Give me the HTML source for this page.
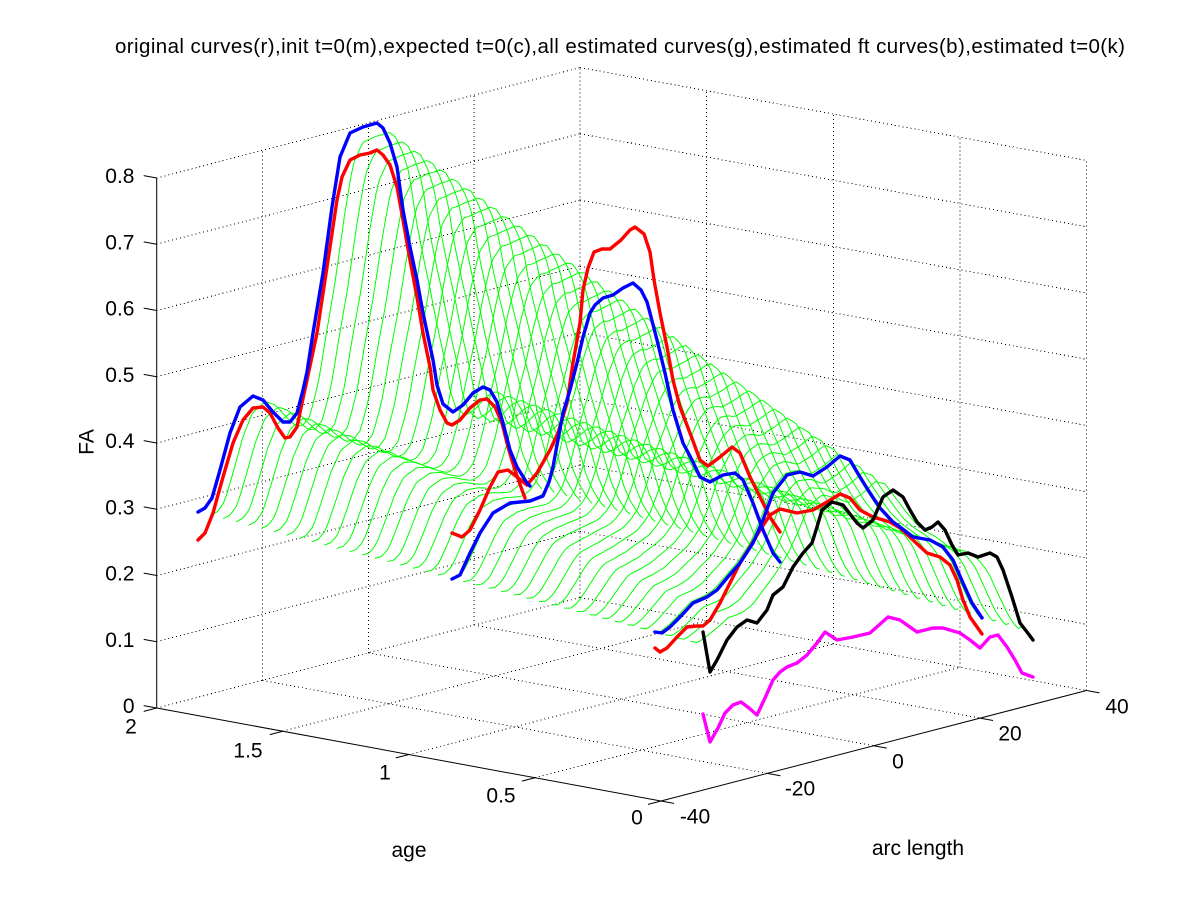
<!DOCTYPE html>
<html>
<head>
<meta charset="utf-8">
<style>
html,body{margin:0;padding:0;background:#fff;}
svg{display:block;}
text{font-family:"Liberation Sans",Arial,Helvetica,sans-serif;fill:#000;}
.grid{stroke:#000;stroke-width:1;stroke-dasharray:1 3;fill:none;shape-rendering:crispEdges;}
.ax{stroke:#000;stroke-width:1;fill:none;}
.cv{fill:none;stroke-width:3.4;stroke-linejoin:round;stroke-linecap:round;}
#green polyline{fill:none;stroke:#00ff00;stroke-width:1;}
</style>
</head>
<body>
<svg width="1200" height="900" viewBox="0 0 1200 900">
<rect x="0" y="0" width="1200" height="900" fill="#fff"/>

<g class="grid">
<line x1="156.7" y1="708" x2="580" y2="597.5"/>
<line x1="156.7" y1="641.75" x2="580" y2="531.25"/>
<line x1="156.7" y1="575.5" x2="580" y2="465"/>
<line x1="156.7" y1="509.25" x2="580" y2="398.75"/>
<line x1="156.7" y1="443" x2="580" y2="332.5"/>
<line x1="156.7" y1="376.75" x2="580" y2="266.25"/>
<line x1="156.7" y1="310.5" x2="580" y2="200"/>
<line x1="156.7" y1="244.25" x2="580" y2="133.75"/>
<line x1="156.7" y1="178" x2="580" y2="67.5"/>
<line x1="262.5" y1="680.4" x2="262.5" y2="150.4"/>
<line x1="368.35" y1="652.75" x2="368.35" y2="122.75"/>
<line x1="474.2" y1="625.1" x2="474.2" y2="95.1"/>
<line x1="580" y1="597.5" x2="580" y2="67.5"/>
<line x1="580" y1="597.5" x2="1086.5" y2="690.5"/>
<line x1="580" y1="531.25" x2="1086.5" y2="624.25"/>
<line x1="580" y1="465" x2="1086.5" y2="558"/>
<line x1="580" y1="398.75" x2="1086.5" y2="491.75"/>
<line x1="580" y1="332.5" x2="1086.5" y2="425.5"/>
<line x1="580" y1="266.25" x2="1086.5" y2="359.25"/>
<line x1="580" y1="200" x2="1086.5" y2="293"/>
<line x1="580" y1="133.75" x2="1086.5" y2="226.75"/>
<line x1="580" y1="67.5" x2="1086.5" y2="160.5"/>
<line x1="706.6" y1="620.75" x2="706.6" y2="90.75"/>
<line x1="833.25" y1="644" x2="833.25" y2="114"/>
<line x1="959.9" y1="667.25" x2="959.9" y2="137.25"/>
<line x1="1086.5" y1="690.5" x2="1086.5" y2="160.5"/>
<line x1="282.8" y1="731.25" x2="706.6" y2="620.75"/>
<line x1="408.85" y1="754.5" x2="833.25" y2="644"/>
<line x1="534.9" y1="777.75" x2="959.9" y2="667.25"/>
<line x1="262.5" y1="680.4" x2="767.4" y2="773.4"/>
<line x1="368.35" y1="652.75" x2="873.75" y2="745.75"/>
<line x1="474.2" y1="625.1" x2="980.1" y2="718.1"/>
</g>

<g class="ax">
<line x1="156.7" y1="178" x2="156.7" y2="708"/>
<line x1="156.7" y1="708" x2="661" y2="801"/>
<line x1="661" y1="801" x2="1086.5" y2="690.5"/>
<line x1="156.7" y1="708" x2="143.7" y2="705.6"/>
<line x1="156.7" y1="641.75" x2="143.7" y2="639.35"/>
<line x1="156.7" y1="575.5" x2="143.7" y2="573.1"/>
<line x1="156.7" y1="509.25" x2="143.7" y2="506.85"/>
<line x1="156.7" y1="443" x2="143.7" y2="440.6"/>
<line x1="156.7" y1="376.75" x2="143.7" y2="374.35"/>
<line x1="156.7" y1="310.5" x2="143.7" y2="308.1"/>
<line x1="156.7" y1="244.25" x2="143.7" y2="241.85"/>
<line x1="156.7" y1="178" x2="143.7" y2="175.6"/>
<line x1="156.7" y1="708" x2="143.7" y2="711.4"/>
<line x1="282.8" y1="731.25" x2="269.8" y2="734.65"/>
<line x1="408.85" y1="754.5" x2="395.85" y2="757.9"/>
<line x1="534.9" y1="777.75" x2="521.9" y2="781.15"/>
<line x1="661" y1="801" x2="648" y2="804.4"/>
<line x1="661" y1="801" x2="674" y2="803.4"/>
<line x1="767.4" y1="773.4" x2="780.4" y2="775.8"/>
<line x1="873.75" y1="745.75" x2="886.75" y2="748.15"/>
<line x1="980.1" y1="718.1" x2="993.1" y2="720.5"/>
<line x1="1086.5" y1="690.5" x2="1099.5" y2="692.9"/>
</g>

<g id="green"></g>

<g class="cv" stroke="#ff0000">
<polyline points="198,540 205,533 213,513 223,477 233,443 243,420 253,408 263,407 270,413 278,428 285,438 290,437 297,427 302,403 307,380 317,333 327,267 337,200 342,177 350,160 360,155 370,153 377,150 383,155 390,165 397,187 403,220 410,260 417,297 423,333 430,367 433,390 440,410 447,423 452,425 460,420 470,408 480,400 487,399 495,407 502,423 508,447 515,470 522,490 525,498"/>
<polyline points="452,533 462,537 470,530 480,510 490,487 498,472 508,470 517,477 527,485 537,473 550,450 558,433 567,403 573,363 580,323 583,290 588,268 594,252 602,249 610,249 621,240 630,230 635,227 644,234 650,252 654,280 660,313 667,347 673,380 680,407 690,433 700,460 708,466 720,457 732,447 740,453 750,477 760,497 770,517 780,532"/>
<polyline points="655,648 660,652 667,648 677,637 687,627 697,626 703,626 710,620 720,603 730,583 740,563 750,547 760,530 770,515 780,509 797,513 813,510 827,502 840,494 850,498 860,510 873,517 890,522 900,528 913,540 927,553 940,557 950,565 957,580 963,600 970,617 982,634"/>
</g>

<g class="cv" stroke="#ff00ff">
<polyline points="703,714 710,742 718,728 725,713 733,705 741,702 749,708 757,715 765,698 773,680 780,672 787,667 797,663 807,655 817,643 825,632 837,640 853,637 870,633 888,617 900,620 917,632 933,628 943,628 960,633 970,640 980,648 990,637 998,635 1007,647 1015,660 1022,673 1033,677"/>
</g>

<g class="cv" stroke="#0000ff">
<polyline points="198,512 205,508 212,498 220,470 230,433 240,407 253,396 263,400 273,412 283,422 290,422 297,413 303,390 307,372 313,333 323,273 332,207 340,157 350,133 363,127 377,123 383,128 390,143 397,167 403,210 410,247 417,280 423,313 433,360 437,385 443,404 453,412 463,405 473,393 483,387 490,390 497,402 503,423 510,450 517,467 527,483 530,486"/>
<polyline points="452,579 460,575 470,553 480,533 493,513 510,503 530,501 543,496 549,482 553,467 557,445 563,413 570,390 577,363 583,337 590,313 595,305 603,298 613,295 623,288 633,283 641,290 647,302 650,313 657,340 665,373 673,410 683,443 692,460 700,477 710,482 723,475 735,473 743,480 753,503 763,530 773,553 780,562"/>
<polyline points="655,632 662,633 670,627 680,617 693,603 707,597 717,590 727,578 740,563 753,543 763,520 773,493 787,475 800,472 813,476 827,467 840,456 850,460 860,477 870,493 880,508 893,522 900,527 913,537 930,540 943,547 953,560 963,583 972,603 982,618"/>
</g>

<g class="cv" stroke="#000000">
<polyline points="703,632 710,672 717,660 727,640 737,627 747,620 757,623 767,610 773,595 783,587 793,567 803,553 812,543 817,527 822,510 832,502 843,505 857,523 863,528 873,520 883,497 893,490 903,497 910,510 917,522 925,530 932,527 938,522 945,530 952,545 958,555 968,553 978,557 990,553 997,557 1003,570 1012,597 1020,623 1027,632 1033,640"/>
</g>

<text x="620" y="53" font-size="20.5" text-anchor="middle" textLength="1010" lengthAdjust="spacing">original curves(r),init t=0(m),expected t=0(c),all estimated curves(g),estimated ft curves(b),estimated t=0(k)</text>

<g font-size="21" text-anchor="end">
<text x="134.5" y="713">0</text>
<text x="134.5" y="646.75">0.1</text>
<text x="134.5" y="580.5">0.2</text>
<text x="134.5" y="514.25">0.3</text>
<text x="134.5" y="448">0.4</text>
<text x="134.5" y="381.75">0.5</text>
<text x="134.5" y="315.5">0.6</text>
<text x="134.5" y="249.25">0.7</text>
<text x="134.5" y="183">0.8</text>
</g>

<g font-size="21" text-anchor="middle">
<text x="131" y="733.5">2</text>
<text x="248" y="757.5">1.5</text>
<text x="385" y="779.5">1</text>
<text x="501" y="802.5">0.5</text>
<text x="637" y="824.5">0</text>
</g>

<g font-size="21" text-anchor="middle">
<text x="695" y="823.5">-40</text>
<text x="800" y="795.5">-20</text>
<text x="898" y="768.5">0</text>
<text x="1010" y="740.5">20</text>
<text x="1117" y="713.5">40</text>
</g>

<text x="409" y="857" font-size="21" text-anchor="middle">age</text>
<text x="918" y="855" font-size="21" text-anchor="middle">arc length</text>
<text transform="translate(93.5,442) rotate(-90)" font-size="21" text-anchor="middle">FA</text>
</svg>

<script>
(function(){
var O=[156.7,708],AV=[505,93],RV=[424.4,-110.5],ZS=662.5;
var B1=[[198,512],[205,508],[212,498],[220,470],[230,433],[240,407],[253,396],[263,400],[273,412],[283,422],[290,422],[297,413],[303,390],[307,372],[313,333],[323,273],[332,207],[340,157],[350,133],[363,127],[377,123],[383,128],[390,143],[397,167],[403,210],[410,247],[417,280],[423,313],[433,360],[437,385],[443,404],[453,412],[463,405],[473,393],[483,387],[490,390],[497,402],[503,423],[510,450],[517,467],[527,483],[530,486]];
var B3=[[655,632],[662,633],[670,627],[680,617],[693,603],[707,597],[717,590],[727,578],[740,563],[753,543],[763,520],[773,493],[787,475],[800,472],[813,476],[827,467],[840,456],[850,460],[860,477],[870,493],[880,508],[893,522],[900,527],[913,537],[930,540],[943,547],[953,560],[963,583],[972,603],[982,618]];
function inv(p,a){var t=(2-a)/2;return p.map(function(q){var u=(q[0]-O[0]-t*AV[0])/RV[0]*80;var y0=O[1]+t*AV[1]+u/80*RV[1];return [u,(y0-q[1])/ZS];});}
function ip(pr,u){if(u<=pr[0][0])return pr[0][1];for(var i=1;i<pr.length;i++){if(u<=pr[i][0]){var u0=pr[i-1][0],z0=pr[i-1][1],u1=pr[i][0],z1=pr[i][1];return z0+(z1-z0)*(u-u0)/(u1-u0);}}return pr[pr.length-1][1];}
var a3=2-2*(655-198)/505;
var P1=inv(B1,2),P3=inv(B3,a3);
var s='';
for(var k=0;k<39;k++){
 var a=1.95-0.05*k;var w=(a-a3)/(2-a3);var t=(2-a)/2;var pts=[];
 for(var u=7.8;u<=70.25;u+=0.6){
  var z=w*ip(P1,u)+(1-w)*ip(P3,u);
  var x=O[0]+t*AV[0]+u/80*RV[0];
  var y=O[1]+t*AV[1]+u/80*RV[1]-z*ZS;
  pts.push(x.toFixed(1)+','+y.toFixed(1));
 }
 s+='<polyline points="'+pts.join(' ')+'"/>';
}
document.getElementById('green').innerHTML=s;
})();
</script>
</body>
</html>
